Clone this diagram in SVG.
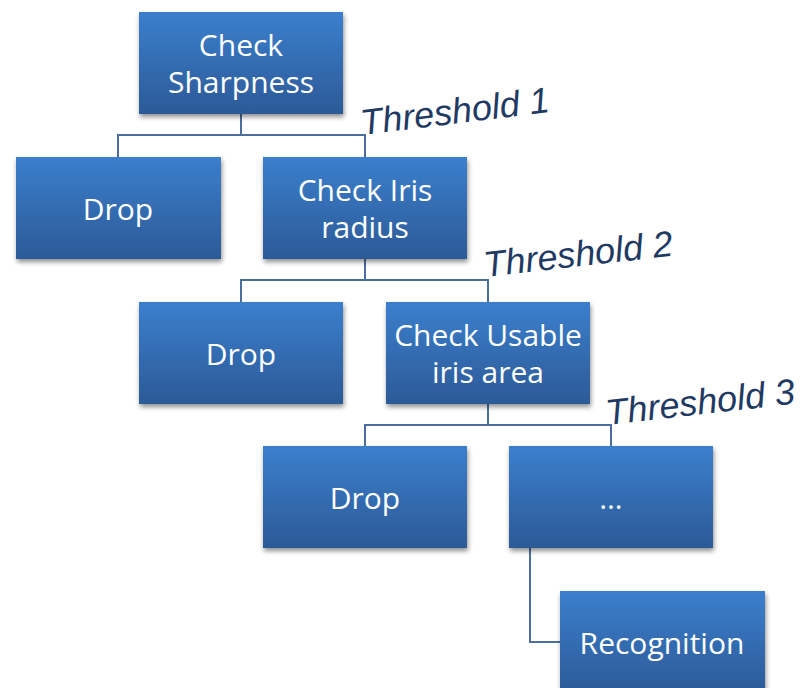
<svg xmlns="http://www.w3.org/2000/svg" width="803" height="688" viewBox="0 0 803 688">
  <defs>
    <linearGradient id="boxFill" x1="0" y1="0" x2="0" y2="1">
      <stop offset="0" stop-color="#3b7fcd"/>
      <stop offset="1" stop-color="#2c5a97"/>
    </linearGradient>
    <filter id="shadow" x="-10%" y="-10%" width="125%" height="130%">
      <feGaussianBlur in="SourceAlpha" stdDeviation="2.5"/>
      <feOffset dx="1" dy="3" result="b"/>
      <feComponentTransfer><feFuncA type="linear" slope="0.45"/></feComponentTransfer>
      <feMerge><feMergeNode/><feMergeNode in="SourceGraphic"/></feMerge>
    </filter>
  </defs>
  <style>
    .box { fill: url(#boxFill); filter: url(#shadow); }
    .lbl { font-family: "Open Sans", "Noto Sans", sans-serif; font-size: 30px; fill: #ffffff; text-anchor: middle; dominant-baseline: central; }
    .wire { fill: none; stroke: #4a6e9e; stroke-width: 2; }
    .thr { font-family: "Liberation Sans", Arial, sans-serif; font-style: italic; font-size: 36px; fill: #1f3a63; }
  </style>

  <rect width="803" height="688" fill="#ffffff"/>

  <!-- connectors -->
  <g id="connectors">
    <path class="wire" d="M241 114 V135 M118 157 V135 H365 V157"/>
    <path class="wire" d="M365 259 V280 M241 302 V280 H488 V302"/>
    <path class="wire" d="M488 404 V425 M365 446 V425 H611 V446"/>
    <path class="wire" d="M530 548 V642 H560"/>
  </g>

  <g id="check-sharpness">
    <rect class="box" x="139" y="12" width="204" height="102"/>
    <text class="lbl" x="241" y="44">Check</text>
    <text class="lbl" x="241" y="81">Sharpness</text>
  </g>

  <g id="drop-1">
    <rect class="box" x="16" y="157" width="205" height="102"/>
    <text class="lbl" x="118" y="208">Drop</text>
  </g>

  <g id="check-iris-radius">
    <rect class="box" x="263" y="157" width="204" height="102"/>
    <text class="lbl" x="365" y="189">Check Iris</text>
    <text class="lbl" x="365" y="226">radius</text>
  </g>

  <g id="drop-2">
    <rect class="box" x="139" y="302" width="204" height="102"/>
    <text class="lbl" x="241" y="353">Drop</text>
  </g>

  <g id="check-usable-area">
    <rect class="box" x="386" y="302" width="204" height="102"/>
    <text class="lbl" x="488" y="334">Check Usable</text>
    <text class="lbl" x="488" y="371">iris area</text>
  </g>

  <g id="drop-3">
    <rect class="box" x="263" y="446" width="204" height="102"/>
    <text class="lbl" x="365" y="497">Drop</text>
  </g>

  <g id="more">
    <rect class="box" x="509" y="446" width="204" height="102"/>
    <text class="lbl" x="611" y="497">…</text>
  </g>

  <g id="recognition">
    <rect class="box" x="560" y="591" width="205" height="102"/>
    <text class="lbl" x="662" y="642">Recognition</text>
  </g>

  <!-- threshold annotations -->
  <g id="thresholds">
    <text class="thr" transform="translate(362 135) rotate(-7)">Threshold 1</text>
    <text class="thr" transform="translate(485 277) rotate(-6.5)">Threshold 2</text>
    <text class="thr" transform="translate(607 425) rotate(-6.5)">Threshold 3</text>
  </g>
</svg>
